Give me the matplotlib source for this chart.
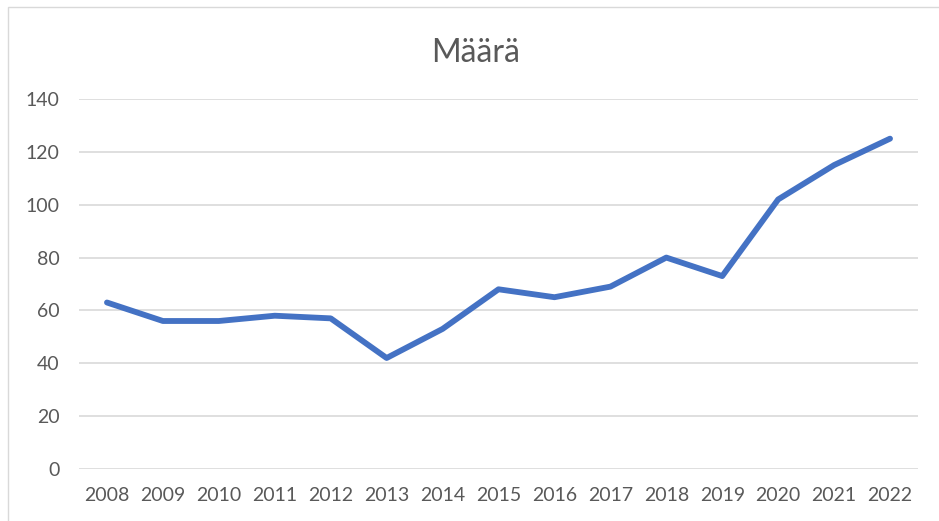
import matplotlib
matplotlib.use("Agg")
import matplotlib.pyplot as plt
from matplotlib.patches import Rectangle

years = ["2008", "2009", "2010", "2011", "2012", "2013", "2014", "2015",
         "2016", "2017", "2018", "2019", "2020", "2021", "2022"]
counts = [63, 56, 56, 58, 57, 42, 53, 68, 65, 69, 80, 73, 102, 115, 125]
y_ticks = [0, 20, 40, 60, 80, 100, 120, 140]

plt.rcParams['font.family'] = ['Lato', 'DejaVu Sans']

W, H = 939, 521
fig = plt.figure(figsize=(W / 100, H / 100), dpi=100)

# light outer chart border (runs off the right and bottom of the image)
fig.patches.append(Rectangle((8 / W, -0.1), 1.2, 1 - 7 / H + 0.1,
                             transform=fig.transFigure, fill=False,
                             edgecolor="#D9D9D9", linewidth=1))

ax = fig.add_axes([79 / W, 1 - 469 / H, (918 - 79) / W, (469 - 99) / H])
x = list(range(len(years)))
ax.plot(x, counts, color="#4472C4", linewidth=4.2, solid_capstyle="round",
        solid_joinstyle="round", zorder=3)

ax.set_xlim(-0.5, len(years) - 0.5)
ax.set_ylim(0, 140)
ax.set_xticks(x)
ax.set_xticklabels(years)
ax.set_yticks(y_ticks)
ax.yaxis.grid(True, color="#D9D9D9", linewidth=1.2)
ax.set_axisbelow(True)
for s in ax.spines.values():
    s.set_visible(False)
ax.tick_params(axis="both", length=0, labelsize=14, labelcolor="#595959")
ax.tick_params(axis="y", pad=14)
ax.tick_params(axis="x", pad=13)

fig.text(476 / W, 1 - 62 / H, "Määrä", ha="center", va="baseline",
         fontsize=23, color="#595959")

fig.savefig("out.png", dpi=100)
